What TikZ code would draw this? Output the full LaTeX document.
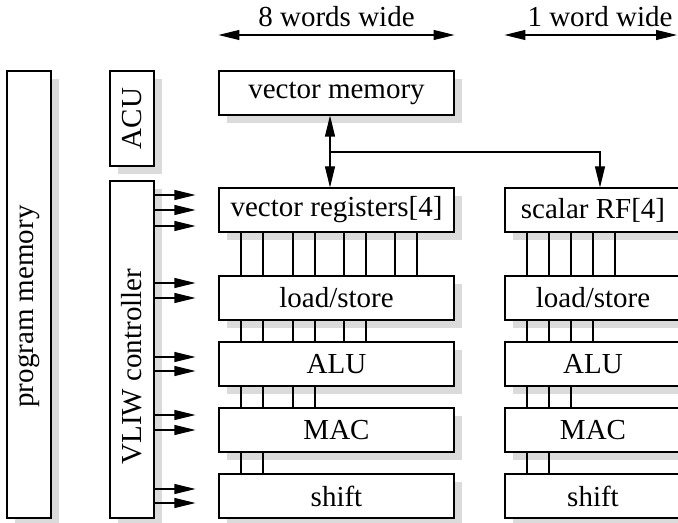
\documentclass[tikz,border=0pt]{standalone}
\usepackage{fontspec}
\setmainfont{Liberation Serif}
\usepackage{graphicx}
\usetikzlibrary{arrows.meta,shadows}

\begin{document}
\begin{tikzpicture}[
    x = 0.5pt, y = -0.5pt,
    box/.style = {rectangle, draw, line width=0.55pt, fill=white, inner sep=0pt, font=\fontsize{14.5}{17}\selectfont,
                  drop shadow={shadow xshift=4pt, shadow yshift=-4pt, fill=black!14, opacity=1}},
    vunit/.style = {box, minimum width=117.5pt, minimum height=22pt},
    sunit/.style = {box, minimum width=88pt, minimum height=22pt},
    tallbox/.style = {box, minimum width=22pt},
    lbl/.style = {font=\fontsize{14.5}{17}\selectfont, inner sep=0pt, anchor=base},
    bus/.style = {line width=0.55pt},
    arrow/.style = {line width=0.55pt, -{Triangle[length=10.5pt, width=5pt]}},
    dim/.style = {line width=0.55pt, {Triangle[length=10.5pt, width=5pt]}-{Triangle[length=10.5pt, width=5pt]}}
]
\useasboundingbox (0,0) rectangle (678,523);
\clip (0,0) rectangle (678,523);

% Control side
\node [tallbox, minimum height=223.5pt] (progmem) at (29,294.5) {\rotatebox{90}{program memory\hspace{12pt}}};
\node [tallbox, minimum height=47.5pt] (acu) at (132,118.5) {\rotatebox{90}{ACU}};
\node [tallbox, minimum height=168.5pt] (vliw) at (132,349.5) {\rotatebox{90}{VLIW controller\hspace{17pt}}};

% Vector column
\node [vunit] (vmem) at (336.5,93) {vector memory};
\node [vunit] (vreg) at (336.5,210) {vector registers[4]};
\node [vunit] (vls) at (336.5,298) {load/store};
\node [vunit] (valu) at (336.5,364) {ALU};
\node [vunit] (vmac) at (336.5,430) {MAC};
\node [vunit] (vshift) at (336.5,496) {shift};

% Scalar column
\node [sunit] (srf) at (593,210) {scalar RF[4]};
\node [sunit] (sls) at (593,298) {load/store};
\node [sunit] (salu) at (593,364) {ALU};
\node [sunit] (smac) at (593,430) {MAC};
\node [sunit] (sshift) at (593,496) {shift};

% Widths
\node [lbl] (w8) at (336.5,27) {8 words wide};
\node [lbl] (w1) at (600,27) {1 word wide};
\coordinate (edge) at (677,35);
\draw [dim] (vmem.west |- 0,35) -- (vmem.east |- 0,35);
\draw [dim] (srf.west |- 0,35) -- (edge);

% Memory to register files
\coordinate (split) at (330,152);
\draw [dim] (330,0 |- vmem.south) -- (330,0 |- vreg.north);
\draw [arrow] (split) -| (600,0 |- srf.north);

% Buses
\foreach \x in {241,263,293,315,344,366,395,417}
    \draw [bus] (\x,0 |- vreg.south) -- (\x,0 |- vls.north);
\foreach \x in {241,263,293,315,344,366}
    \draw [bus] (\x,0 |- vls.south) -- (\x,0 |- valu.north);
\foreach \x in {241,263,293,315}
    \draw [bus] (\x,0 |- valu.south) -- (\x,0 |- vmac.north);
\foreach \x in {241,263}
    \draw [bus] (\x,0 |- vmac.south) -- (\x,0 |- vshift.north);
\foreach \x in {527,549,571,593,615}
    \draw [bus] (\x,0 |- srf.south) -- (\x,0 |- sls.north);
\foreach \x in {527,549,571,593}
    \draw [bus] (\x,0 |- sls.south) -- (\x,0 |- salu.north);
\foreach \x in {527,549,571}
    \draw [bus] (\x,0 |- salu.south) -- (\x,0 |- smac.north);
\foreach \x in {527,549}
    \draw [bus] (\x,0 |- smac.south) -- (\x,0 |- sshift.north);

% Control arrows
\foreach \y in {195,210,226}
    \draw [arrow, shorten >=11.5pt] (vliw.east |- 0,\y) -- (vreg.west |- 0,\y);
\foreach \y in {283,298}
    \draw [arrow, shorten >=11.5pt] (vliw.east |- 0,\y) -- (vls.west |- 0,\y);
\foreach \y in {357,371}
    \draw [arrow, shorten >=11.5pt] (vliw.east |- 0,\y) -- (valu.west |- 0,\y);
\foreach \y in {415,430}
    \draw [arrow, shorten >=11.5pt] (vliw.east |- 0,\y) -- (vmac.west |- 0,\y);
\foreach \y in {489,503}
    \draw [arrow, shorten >=11.5pt] (vliw.east |- 0,\y) -- (vshift.west |- 0,\y);

\end{tikzpicture}
\end{document}
